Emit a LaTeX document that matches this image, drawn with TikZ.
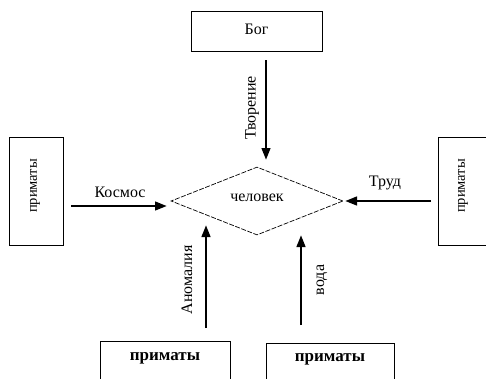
\documentclass[tikz,border=0pt]{standalone}
\usepackage{fontspec}
\setmainfont{Liberation Serif}
\usetikzlibrary{shapes.geometric,arrows.meta}
\begin{document}
\begin{tikzpicture}[x=1pt,y=-1pt,
  pbox/.style={draw,line width=0.9pt,inner sep=0pt},
  lbl/.style={inner sep=0pt,font=\fontsize{16}{18}\selectfont},
  rlbl/.style={lbl,rotate=90},
  flow/.style={line width=2.6pt,-{Triangle[length=12pt,width=8.5pt]}},
  human/.style={draw,shape=diamond,line width=0.7pt,dash pattern=on 5pt off 1.5pt,
     minimum width=172pt,minimum height=68pt,inner sep=0pt}]
\useasboundingbox[clip] (0,0) rectangle (486,378);
% boxes
\node[pbox,minimum width=131pt,minimum height=40pt] (god) at (256.5,31) {};
\node[lbl] (godt) at (256.5,29) {Бог};
\node[pbox,minimum width=54pt,minimum height=108pt] (pl) at (36,191) {};
\node[lbl,rotate=90,font=\fontsize{14.5}{16}\selectfont] (plt) at (35,186) {приматы};
\node[pbox,minimum width=54pt,minimum height=108pt] (pr) at (465,191) {};
\node[lbl,rotate=90,font=\fontsize{14.5}{16}\selectfont] (prt) at (463,186) {приматы};
\node[pbox,minimum width=130pt,minimum height=44pt,anchor=north] (bl) at (165,341) {};
\node[lbl,font=\fontsize{17}{19}\selectfont\bfseries] (blt) at (165,358) {приматы};
\node[pbox,minimum width=128pt,minimum height=44pt,anchor=north] (br) at (330,343) {};
\node[lbl,font=\fontsize{17}{19}\selectfont\bfseries] (brt) at (330,359) {приматы};
% diamond
\node[human] (man) at (257,201) {};
\node[lbl] (mant) at (257,198) {человек};
% arrow end points
\coordinate (a1s) at (266,60);  \coordinate (a1e) at (266,160);
\coordinate (a2s) at (71,206);  \coordinate (a2e) at (167,206);
\coordinate (a3s) at (431,201); \coordinate (a3e) at (345,201);
\coordinate (a4s) at (206,328); \coordinate (a4e) at (206,225);
\coordinate (a5s) at (301,325); \coordinate (a5e) at (301,235);
\draw[flow] (a1s) -- (a1e);
\draw[flow] (a2s) -- (a2e);
\draw[flow] (a3s) -- (a3e);
\draw[flow] (a4s) -- (a4e);
\draw[flow] (a5s) -- (a5e);
% labels
\node[rlbl] (l1) at (252,108) {Творение};
\node[lbl] (l2) at (120,192) {Космос};
\node[lbl] (l3) at (385,183) {Труд};
\node[rlbl] (l4) at (187,280) {Аномалия};
\node[rlbl] (l5) at (322,280) {вода};
\end{tikzpicture}
\end{document}
